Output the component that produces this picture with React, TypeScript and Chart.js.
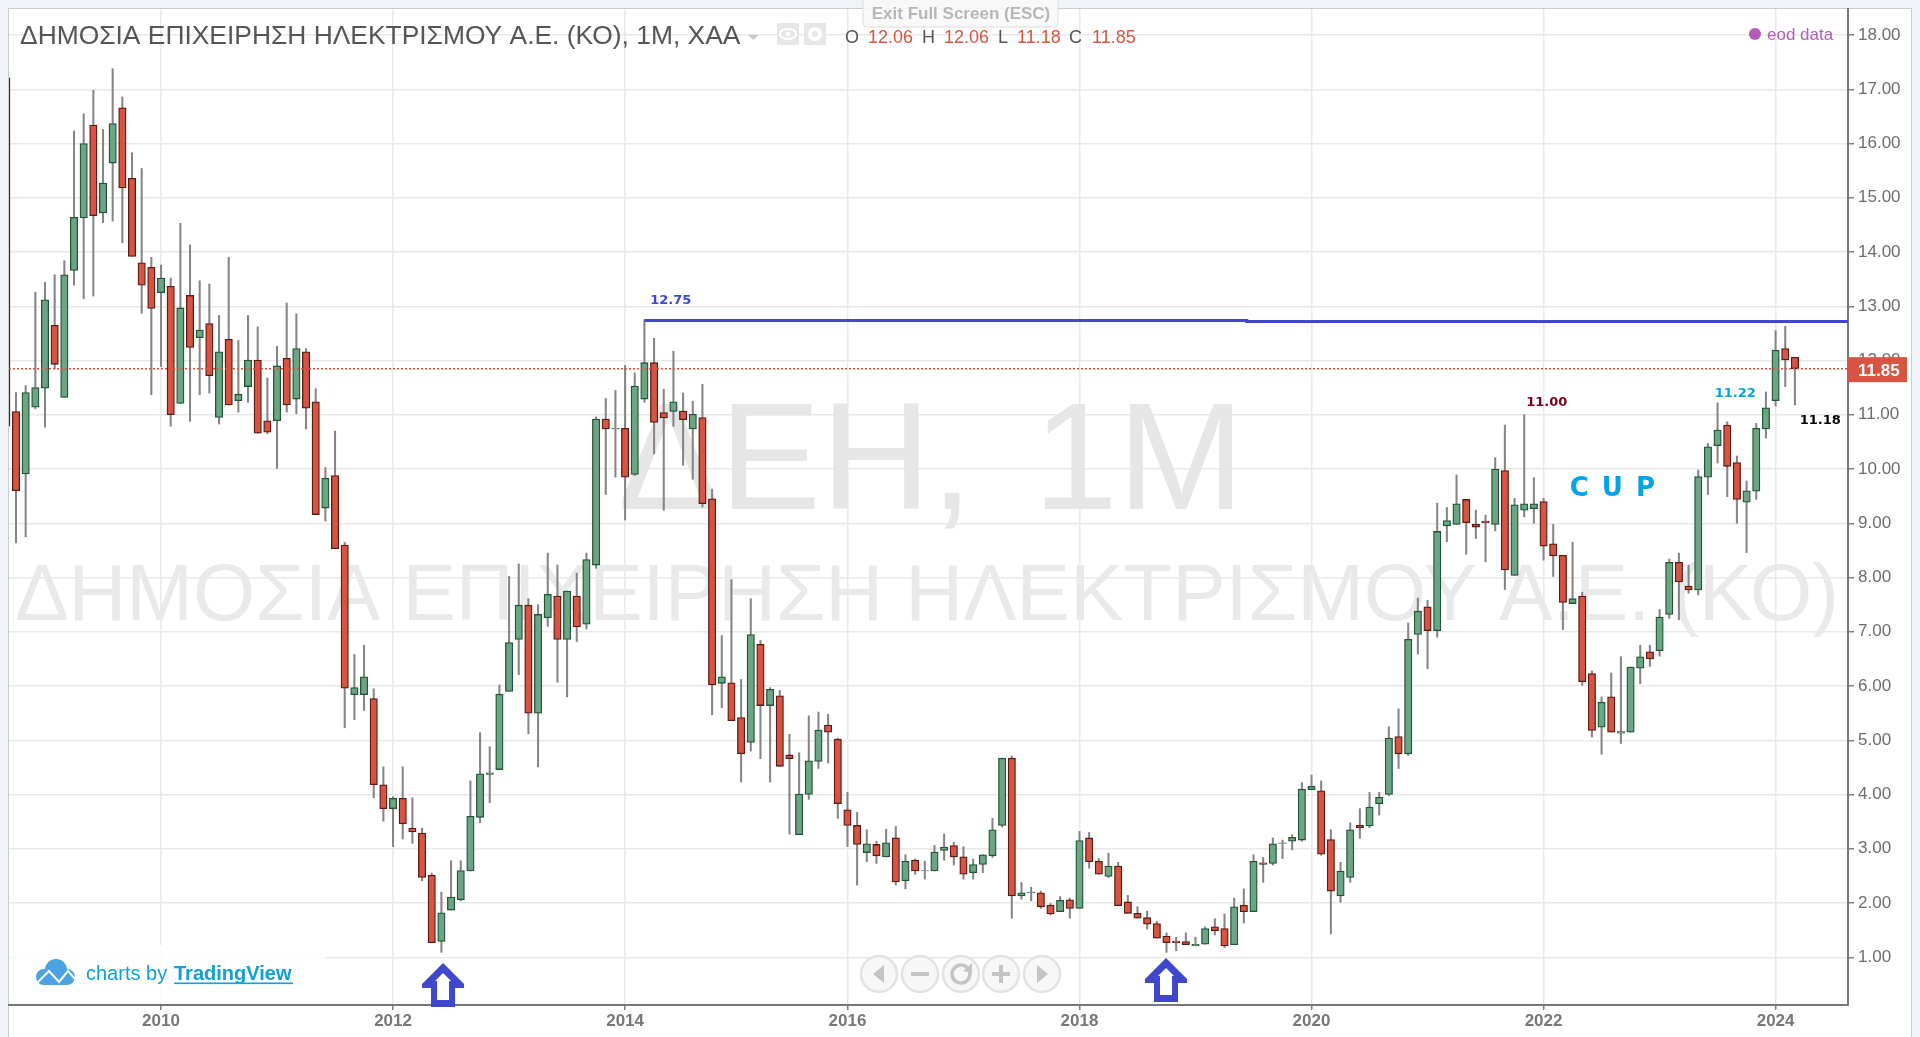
import React, { useEffect, useRef } from "react";
import { Chart, registerables } from "chart.js";

Chart.register(...registerables);

// Monthly sessions (July 2015 is absent: the exchange was closed)
const months = [
  "2008-09","2008-10","2008-11","2008-12",
  "2009-01","2009-02","2009-03","2009-04","2009-05","2009-06","2009-07","2009-08","2009-09","2009-10","2009-11","2009-12",
  "2010-01","2010-02","2010-03","2010-04","2010-05","2010-06","2010-07","2010-08","2010-09","2010-10","2010-11","2010-12",
  "2011-01","2011-02","2011-03","2011-04","2011-05","2011-06","2011-07","2011-08","2011-09","2011-10","2011-11","2011-12",
  "2012-01","2012-02","2012-03","2012-04","2012-05","2012-06","2012-07","2012-08","2012-09","2012-10","2012-11","2012-12",
  "2013-01","2013-02","2013-03","2013-04","2013-05","2013-06","2013-07","2013-08","2013-09","2013-10","2013-11","2013-12",
  "2014-01","2014-02","2014-03","2014-04","2014-05","2014-06","2014-07","2014-08","2014-09","2014-10","2014-11","2014-12",
  "2015-01","2015-02","2015-03","2015-04","2015-05","2015-06","2015-08","2015-09","2015-10","2015-11","2015-12",
  "2016-01","2016-02","2016-03","2016-04","2016-05","2016-06","2016-07","2016-08","2016-09","2016-10","2016-11","2016-12",
  "2017-01","2017-02","2017-03","2017-04","2017-05","2017-06","2017-07","2017-08","2017-09","2017-10","2017-11","2017-12",
  "2018-01","2018-02","2018-03","2018-04","2018-05","2018-06","2018-07","2018-08","2018-09","2018-10","2018-11","2018-12",
  "2019-01","2019-02","2019-03","2019-04","2019-05","2019-06","2019-07","2019-08","2019-09","2019-10","2019-11","2019-12",
  "2020-01","2020-02","2020-03","2020-04","2020-05","2020-06","2020-07","2020-08","2020-09","2020-10","2020-11","2020-12",
  "2021-01","2021-02","2021-03","2021-04","2021-05","2021-06","2021-07","2021-08","2021-09","2021-10","2021-11","2021-12",
  "2022-01","2022-02","2022-03","2022-04","2022-05","2022-06","2022-07","2022-08","2022-09","2022-10","2022-11","2022-12",
  "2023-01","2023-02","2023-03","2023-04","2023-05","2023-06","2023-07","2023-08","2023-09","2023-10","2023-11","2023-12",
  "2024-01","2024-02","2024-03",
];

const opens = [
  17.21,11.06,9.91,11.14,11.49,12.65,11.32,13.66,14.63,16.34,14.72,15.64,16.66,15.36,13.80,13.72,13.25,13.37,11.21,13.20,
  12.42,12.68,10.95,12.39,11.26,11.52,12.01,10.89,10.89,12.04,11.29,12.16,11.24,9.28,9.88,8.60,5.84,5.84,5.77,4.18,
  3.74,3.93,3.38,3.29,2.51,1.29,1.87,2.06,2.59,3.58,4.37,4.46,5.90,6.86,7.49,5.50,7.26,7.66,6.86,7.66,
  7.14,8.23,10.92,10.74,10.75,9.90,11.29,11.96,11.04,11.06,11.07,10.74,10.95,9.45,6.05,6.06,5.42,4.96,6.77,5.64,
  5.82,4.73,3.26,4.00,4.61,5.28,5.02,3.72,3.43,2.93,3.08,2.85,3.20,2.41,2.79,2.59,2.59,2.97,3.06,2.85,
  2.56,2.71,2.87,3.43,4.67,2.13,2.19,2.19,1.96,1.84,2.06,1.90,3.20,2.77,2.49,2.68,2.02,1.81,1.73,1.62,
  1.39,1.30,1.29,1.21,1.24,1.56,1.53,1.23,1.96,1.84,2.74,2.73,3.10,3.14,3.16,4.09,4.07,3.17,2.13,2.47,
  3.43,3.42,3.83,4.00,5.07,4.75,6.95,7.46,7.02,8.95,8.98,9.44,8.98,9.04,8.98,9.97,8.04,9.24,9.27,9.40,
  8.62,8.41,7.52,7.66,6.23,5.24,5.80,5.13,5.15,6.33,6.63,6.65,7.32,8.28,7.84,7.77,9.85,10.43,10.81,10.12,
  9.39,9.59,10.74,11.26,12.22,12.06,
];
const closes = [
  10.79,9.60,11.41,11.50,13.12,11.93,13.58,14.64,16.00,14.67,15.27,16.37,15.18,13.92,13.39,12.96,13.52,11.00,12.97,12.24,
  12.56,11.72,12.16,11.18,11.38,12.01,10.66,10.68,11.90,11.18,12.22,11.12,9.16,9.83,8.53,5.96,5.97,6.17,4.18,3.74,
  3.93,3.46,3.31,2.47,1.27,1.82,2.11,2.60,3.60,4.38,4.40,5.85,6.80,7.49,5.50,7.32,7.69,6.86,7.75,7.09,
  8.33,10.92,10.74,10.75,9.85,11.53,11.96,10.86,10.94,11.24,10.91,11.01,9.36,6.02,6.17,5.36,4.75,6.95,5.64,5.94,
  4.52,4.66,4.01,4.62,5.19,5.15,3.83,3.43,3.08,3.09,2.87,3.11,2.39,2.77,2.59,2.60,2.94,3.03,2.85,2.53,
  2.71,2.89,3.35,4.67,2.13,2.19,2.20,1.93,1.80,2.05,1.90,3.15,2.76,2.53,2.68,1.95,1.81,1.72,1.61,1.35,
  1.27,1.27,1.23,1.24,1.53,1.49,1.21,1.93,1.84,2.77,2.71,3.09,3.11,3.21,4.10,4.15,2.90,2.22,2.59,3.35,
  3.39,3.77,3.95,5.04,4.75,6.86,7.38,7.02,8.85,9.05,9.36,9.01,8.93,9.01,10.00,8.14,9.34,9.36,9.36,8.58,
  8.40,7.54,7.61,6.08,5.18,5.70,5.15,5.16,6.35,6.54,6.50,7.27,8.28,7.92,7.77,9.86,10.41,10.72,10.05,9.44,
  9.60,10.75,11.13,12.19,12.01,11.85,
];
const highs = [
  17.21,11.41,11.54,13.26,13.44,13.58,13.84,16.23,16.55,16.98,16.26,17.38,16.86,15.83,15.54,13.90,13.76,13.52,14.53,14.13,
  13.47,13.41,12.83,13.90,12.37,12.83,12.62,11.68,12.26,13.06,12.86,12.22,11.48,10.03,10.70,8.65,6.58,6.75,5.95,4.51,
  3.96,4.51,3.94,3.38,2.55,2.20,2.78,2.78,4.25,5.14,4.88,6.02,8.02,8.25,7.61,7.50,8.45,8.23,7.75,8.08,
  8.45,10.96,11.30,11.45,11.91,11.77,12.75,12.41,11.47,12.17,11.40,11.25,11.56,9.63,6.93,7.96,6.12,7.61,6.84,5.97,
  5.92,5.11,4.77,5.45,5.52,5.48,5.04,4.04,3.67,3.35,3.14,3.36,3.41,2.89,2.81,2.77,3.06,3.27,3.12,3.04,
  2.81,2.89,3.56,4.67,4.71,2.38,2.29,2.22,1.99,2.12,2.09,3.32,3.30,2.82,2.92,2.75,2.14,1.93,1.85,1.66,
  1.45,1.37,1.45,1.37,1.56,1.71,1.80,2.09,2.26,2.89,2.84,3.20,3.16,3.26,4.22,4.36,4.25,3.35,2.75,3.48,
  3.74,4.04,4.04,5.25,5.58,7.16,7.62,7.58,9.37,9.29,9.89,9.44,9.24,9.15,10.21,10.81,9.46,11.00,9.84,9.46,
  8.98,8.41,8.65,7.73,6.28,5.80,6.24,6.54,6.35,6.75,6.75,7.41,8.34,8.45,8.23,9.98,10.47,11.22,10.87,10.24,
  9.78,10.84,11.42,12.55,12.63,12.06,
];
const lows = [
  10.79,8.64,8.75,11.11,10.77,11.85,11.32,13.39,13.14,13.19,14.54,14.57,14.17,13.92,12.87,11.37,11.89,10.79,11.21,10.88,
  11.37,11.40,10.83,11.18,11.05,11.23,10.66,10.65,10.01,11.05,11.02,10.74,9.16,9.04,8.53,5.23,5.38,5.55,3.94,3.51,
  3.04,3.18,3.10,2.41,1.27,1.09,1.87,2.04,2.59,3.48,3.85,4.46,5.90,6.21,5.12,4.51,7.10,6.07,5.80,6.82,
  7.05,8.17,9.53,9.85,9.06,9.88,11.23,10.28,9.24,10.79,10.07,9.81,9.30,5.47,5.60,5.36,4.23,4.80,4.66,4.23,
  4.52,3.27,3.26,3.91,4.48,4.58,3.56,3.04,2.33,2.76,2.73,2.85,2.33,2.26,2.53,2.44,2.59,2.79,2.70,2.44,
  2.44,2.56,2.84,3.40,1.72,2.07,2.04,1.90,1.78,1.84,1.72,1.90,2.64,2.53,2.47,1.95,1.81,1.72,1.52,1.35,
  1.09,1.12,1.23,1.21,1.24,1.41,1.18,1.23,1.63,1.84,2.38,2.70,2.82,2.98,3.14,4.09,2.88,1.43,2.01,2.38,
  3.19,3.39,3.62,3.98,4.48,4.72,6.59,6.32,6.90,8.66,8.98,8.43,8.72,8.29,8.86,7.78,8.04,9.12,9.00,8.32,
  8.02,7.04,7.52,6.01,5.06,4.74,5.15,4.94,5.15,6.04,6.36,6.55,7.25,7.22,7.71,7.68,9.53,10.11,9.49,9.00,
  8.46,9.44,10.57,11.16,11.52,11.18,
];

const yearTickLabels = ["2010-01","2012-01","2014-01","2016-01","2018-01","2020-01","2022-01","2024-01"];
const priceTicks = [1,2,3,4,5,6,7,8,9,10,11,12,13,14,15,16,17,18];

const lastClose = 11.85;
const resistanceStart = 66;
const resistanceKnot = 128.3;
const resistanceValues = [12.74, 12.74, 12.72, 12.72];

const chartTitle = "ΔΗΜΟΣΙΑ ΕΠΙΧΕΙΡΗΣΗ ΗΛΕΚΤΡΙΣΜΟΥ Α.Ε. (ΚΟ), 1Μ, ΧΑΑ";
const watermarkShort = "ΔΕΗ, 1Μ";
const watermarkLong = "ΔΗΜΟΣΙΑ ΕΠΙΧΕΙΡΗΣΗ ΗΛΕΚΤΡΙΣΜΟΥ Α.Ε. (ΚΟ)";
const ohlcLetters = ["O", "H", "L", "C"];
const ohlcValues = ["12.06", "12.06", "11.18", "11.85"];

// Axis window, in session index and price units
const X_MIN = 0.276;
const X_MAX = 190.49;
const Y_MIN = 0.12;
const Y_MAX = 18.48;

const SANS = '"Liberation Sans", Arial, sans-serif';
const DEJA = '"DejaVu Sans", Verdana, sans-serif';
const UP_FILL = "#6ba583", UP_EDGE = "#225437", DOWN_FILL = "#d75442", DOWN_EDGE = "#5b1a13";

const isUp = (i: number) => closes[i] >= opens[i];

function text(ctx: any, s: string, x: number, y: number, font: string, color: string, align = "left") {
  ctx.font = font;
  ctx.fillStyle = color;
  ctx.textAlign = align;
  ctx.textBaseline = "alphabetic";
  ctx.fillText(s, x, y);
}

function drawArrow(chart: any, idx: number, tipValue: number) {
  const ctx = chart.ctx;
  const cx = chart.scales.x.getPixelForValue(idx);
  const ty = chart.scales.y.getPixelForValue(tipValue);
  const outer = [[0,0],[21,21],[21,25],[12,25],[12,44],[-12,44],[-12,25],[-21,25],[-21,21]];
  const inner = [[0,10],[8,18],[6,18],[6,37],[-6,37],[-6,18],[-8,18]];
  const poly = (pts: number[][], color: string) => {
    ctx.beginPath();
    pts.forEach((p, i) => (i ? ctx.lineTo(cx + p[0], ty + p[1]) : ctx.moveTo(cx + p[0], ty + p[1])));
    ctx.closePath();
    ctx.fillStyle = color;
    ctx.fill();
  };
  poly(outer, "#3f48cc");
  poly(inner, "#ffffff");
}

function drawCloud(ctx: any) {
  ctx.save();
  ctx.fillStyle = "#4aa3e0";
  ctx.beginPath();
  ctx.arc(44, 977, 8, 0, Math.PI * 2);
  ctx.arc(56, 970, 11, 0, Math.PI * 2);
  ctx.arc(67, 977, 8, 0, Math.PI * 2);
  ctx.fill();
  ctx.fillRect(44, 975, 23, 10);
  ctx.strokeStyle = "#ffffff";
  ctx.lineWidth = 2;
  ctx.beginPath();
  ctx.moveTo(36, 984);
  ctx.lineTo(49, 971);
  ctx.lineTo(59, 982);
  ctx.lineTo(68, 971);
  ctx.lineTo(76, 980);
  ctx.stroke();
  ctx.restore();
}

function drawNav(ctx: any) {
  const centres = [879, 920, 961, 1001, 1042];
  const cy = 974;
  const glyph = "#c4c4c4";
  ctx.save();
  centres.forEach((cx, k) => {
    ctx.beginPath();
    ctx.arc(cx, cy, 18, 0, Math.PI * 2);
    ctx.fillStyle = "rgba(246,246,246,0.92)";
    ctx.fill();
    ctx.lineWidth = 2.5;
    ctx.strokeStyle = "#e2e2e2";
    ctx.stroke();
    ctx.fillStyle = glyph;
    ctx.strokeStyle = glyph;
    if (k === 0 || k === 4) {
      const d = k === 0 ? -1 : 1;
      ctx.beginPath();
      ctx.moveTo(cx + d * 6, cy);
      ctx.lineTo(cx - d * 5, cy - 9);
      ctx.lineTo(cx - d * 5, cy + 9);
      ctx.closePath();
      ctx.fill();
    } else if (k === 1) {
      ctx.fillRect(cx - 9, cy - 2, 18, 4);
    } else if (k === 3) {
      ctx.fillRect(cx - 9, cy - 2, 18, 4);
      ctx.fillRect(cx - 2, cy - 9, 4, 18);
    } else {
      ctx.lineWidth = 3.5;
      ctx.beginPath();
      ctx.arc(cx, cy, 9, -0.2, Math.PI * 1.75, false);
      ctx.stroke();
      ctx.beginPath();
      ctx.moveTo(cx + 11, cy - 11);
      ctx.lineTo(cx + 11, cy - 1);
      ctx.lineTo(cx + 2, cy - 3);
      ctx.closePath();
      ctx.fill();
    }
  });
  ctx.restore();
}

const overlayPlugin = {
  id: "overlay",
  beforeDatasetsDraw(chart: any) {
    const ctx = chart.ctx;
    ctx.save();
    ctx.wordSpacing = "18px";
    text(ctx, watermarkShort, 618, 509, `152px ${SANS}`, "#e6e6e6");
    ctx.wordSpacing = "0px";
    text(ctx, watermarkLong, 927, 620, `80px ${SANS}`, "#e9e9e9", "center");
    ctx.restore();
  },
  afterDatasetsDraw(chart: any) {
    const ctx = chart.ctx;
    const { x, y } = chart.scales;
    ctx.save();
    // Logo patch
    ctx.fillStyle = "rgba(255,255,255,0.85)";
    ctx.fillRect(10, 945, 316, 58);
    drawCloud(ctx);
    text(ctx, "charts by", 86, 980, `20px ${SANS}`, "#0ea0d8");
    text(ctx, "TradingView", 174, 980, `bold 20px ${SANS}`, "#0ea0d8");
    ctx.fillStyle = "#0ea0d8";
    ctx.fillRect(174, 982.5, 119, 1.6);

    drawArrow(chart, 45.17, 0.895);
    drawArrow(chart, 119.95, 0.987);

    const bold13 = `bold 13px ${DEJA}`;
    text(ctx, "12.75", x.getPixelForValue(66.6), y.getPixelForValue(13.04), bold13, "#3f48cc");
    text(ctx, "11.00", x.getPixelForValue(157.2), y.getPixelForValue(11.16), bold13, "#7a0019");
    text(ctx, "11.22", x.getPixelForValue(176.7), y.getPixelForValue(11.32), bold13, "#00a2e8");
    text(ctx, "11.18", x.getPixelForValue(185.5), y.getPixelForValue(10.83), bold13, "#000000");
    ctx.letterSpacing = "2px";
    text(ctx, "C U P", x.getPixelForValue(161.7), y.getPixelForValue(9.5), `bold 26px ${DEJA}`, "#00a2e8");
    ctx.letterSpacing = "0px";
    ctx.restore();
  },
  afterDraw(chart: any) {
    const ctx = chart.ctx;
    const { y } = chart.scales;
    ctx.save();
    // Header
    text(ctx, chartTitle, 20, 44, `26.4px ${SANS}`, "#555555");
    ctx.fillStyle = "#c9c9c9";
    ctx.beginPath();
    ctx.moveTo(748, 35);
    ctx.lineTo(759, 35);
    ctx.lineTo(753.5, 40);
    ctx.closePath();
    ctx.fill();
    [777, 804].forEach((sx, k) => {
      ctx.fillStyle = "#e6e6e6";
      ctx.fillRect(sx, 23, 22, 22);
      ctx.strokeStyle = "#ffffff";
      ctx.fillStyle = "#ffffff";
      ctx.lineWidth = 2;
      ctx.beginPath();
      if (k === 0) {
        ctx.ellipse(sx + 11, 34, 8, 5, 0, 0, Math.PI * 2);
        ctx.stroke();
        ctx.beginPath();
        ctx.arc(sx + 11, 34, 2.5, 0, Math.PI * 2);
        ctx.fill();
      } else {
        ctx.arc(sx + 11, 34, 5, 0, Math.PI * 2);
        ctx.lineWidth = 4;
        ctx.stroke();
      }
    });
    const letterX = [845, 922, 998, 1069];
    const valueX = [868, 944, 1017, 1092];
    ohlcLetters.forEach((l, i) => {
      text(ctx, l, letterX[i], 43, `18px ${SANS}`, "#555555");
      text(ctx, ohlcValues[i], valueX[i], 43, `18px ${SANS}`, "#d75442");
    });

    // Exit Full Screen hint
    ctx.beginPath();
    ctx.roundRect(863, -6, 195, 33, 4);
    ctx.fillStyle = "rgba(248,248,248,0.9)";
    ctx.fill();
    ctx.lineWidth = 1;
    ctx.strokeStyle = "#dddddd";
    ctx.stroke();
    text(ctx, "Exit Full Screen (ESC)", 961, 19, `bold 17px ${SANS}`, "#b6b6b6", "center");

    // eod data
    ctx.fillStyle = "#b25cb8";
    ctx.beginPath();
    ctx.arc(1755, 34, 6, 0, Math.PI * 2);
    ctx.fill();
    text(ctx, "eod data", 1767, 40, `17px ${SANS}`, "#b25cb8");

    // Last price tag
    const py = y.getPixelForValue(lastClose);
    ctx.fillStyle = "#d75442";
    ctx.fillRect(1848, py - 11.5, 59, 25);
    text(ctx, lastClose.toFixed(2), 1858, py + 7, `bold 17px ${SANS}`, "#ffffff");

    drawNav(ctx);
    ctx.restore();
  },
};

export default function App() {
  const ref = useRef<HTMLCanvasElement | null>(null);

  useEffect(() => {
    if (!ref.current) return;
    const xs = months.map((_, i) => i);
    const tickIndices = yearTickLabels.map((m) => months.indexOf(m));
    const chart = new Chart(ref.current, {
      type: "bar",
      data: {
        datasets: [
          {
            type: "line",
            label: "Last close",
            data: [
              { x: X_MIN, y: lastClose },
              { x: X_MAX, y: lastClose },
            ],
            borderColor: "#d75442",
            borderWidth: 1.5,
            borderDash: [2, 2],
            pointRadius: 0,
            order: 1,
          },
          {
            type: "line",
            label: "Resistance",
            data: [
              { x: resistanceStart, y: resistanceValues[0] },
              { x: resistanceKnot, y: resistanceValues[1] },
              { x: resistanceKnot, y: resistanceValues[2] },
              { x: X_MAX, y: resistanceValues[3] },
            ],
            borderColor: "#3f48cc",
            borderWidth: 3,
            pointRadius: 0,
            order: 0,
          },
          {
            label: "Body",
            data: xs.map((i) => ({ x: i, y: [opens[i], closes[i]] })),
            backgroundColor: xs.map((i) => (isUp(i) ? UP_FILL : DOWN_FILL)),
            borderColor: xs.map((i) => (isUp(i) ? UP_EDGE : DOWN_EDGE)),
            borderWidth: 1.3,
            borderSkipped: false,
            barThickness: 7.4,
            grouped: false,
            order: 2,
          },
          {
            label: "Wick",
            data: xs.map((i) => ({ x: i, y: [lows[i], highs[i]] })),
            backgroundColor: "#858585",
            borderWidth: 0,
            barThickness: 1.4,
            grouped: false,
            order: 3,
          },
        ],
      } as any,
      options: {
        responsive: false,
        animation: false,
        devicePixelRatio: 1,
        layout: { autoPadding: false, padding: { left: 9, top: 9, right: 0, bottom: 0 } },
        plugins: { legend: { display: false }, tooltip: { enabled: false }, title: { display: false } },
        scales: {
          x: {
            type: "linear",
            offset: false,
            min: X_MIN,
            max: X_MAX,
            afterBuildTicks: (s: any) => {
              s.ticks = tickIndices.map((value) => ({ value }));
            },
            afterFit: (s: any) => {
              s.height = 32;
              s.paddingLeft = 0;
              s.paddingRight = 0;
            },
            grid: { offset: false, color: "#e9e9e9", lineWidth: 1.5, tickColor: "#808080", tickWidth: 1.5, tickLength: 5 },
            border: { color: "#777777", width: 2 },
            ticks: {
              autoSkip: false,
              maxRotation: 0,
              padding: 1,
              color: "#777777",
              font: { family: SANS, size: 17, weight: "bold" },
              callback: (v: any) => (months[v] || "").slice(0, 4),
            },
          },
          y: {
            type: "linear",
            position: "right",
            min: Y_MIN,
            max: Y_MAX,
            afterBuildTicks: (s: any) => {
              s.ticks = priceTicks.map((value) => ({ value }));
            },
            afterFit: (s: any) => {
              s.width = 72;
              s.paddingTop = 0;
              s.paddingBottom = 0;
            },
            grid: { color: "#e9e9e9", lineWidth: 1.5, tickColor: "#808080", tickWidth: 1.5, tickLength: 6 },
            border: { color: "#777777", width: 2 },
            ticks: {
              padding: 4,
              color: "#6c6c6c",
              font: { family: SANS, size: 17 },
              callback: (v: any) => Number(v).toFixed(2),
            },
          },
        },
      } as any,
      plugins: [overlayPlugin],
    });
    return () => chart.destroy();
  }, []);

  return (
    <div style={{ position: "fixed", inset: 0, background: "#f0f3f8", overflow: "hidden" }}>
      <div
        style={{
          position: "absolute",
          left: 8,
          top: 8,
          width: 1904,
          height: 1040,
          boxSizing: "border-box",
          background: "#ffffff",
          border: "1px solid #c9cdd3",
        }}
      />
      <canvas
        ref={ref}
        width={1920}
        height={1037}
        style={{ position: "absolute", left: 0, top: 0, width: 1920, height: 1037, display: "block", filter: "blur(0.45px)" }}
      />
    </div>
  );
}
